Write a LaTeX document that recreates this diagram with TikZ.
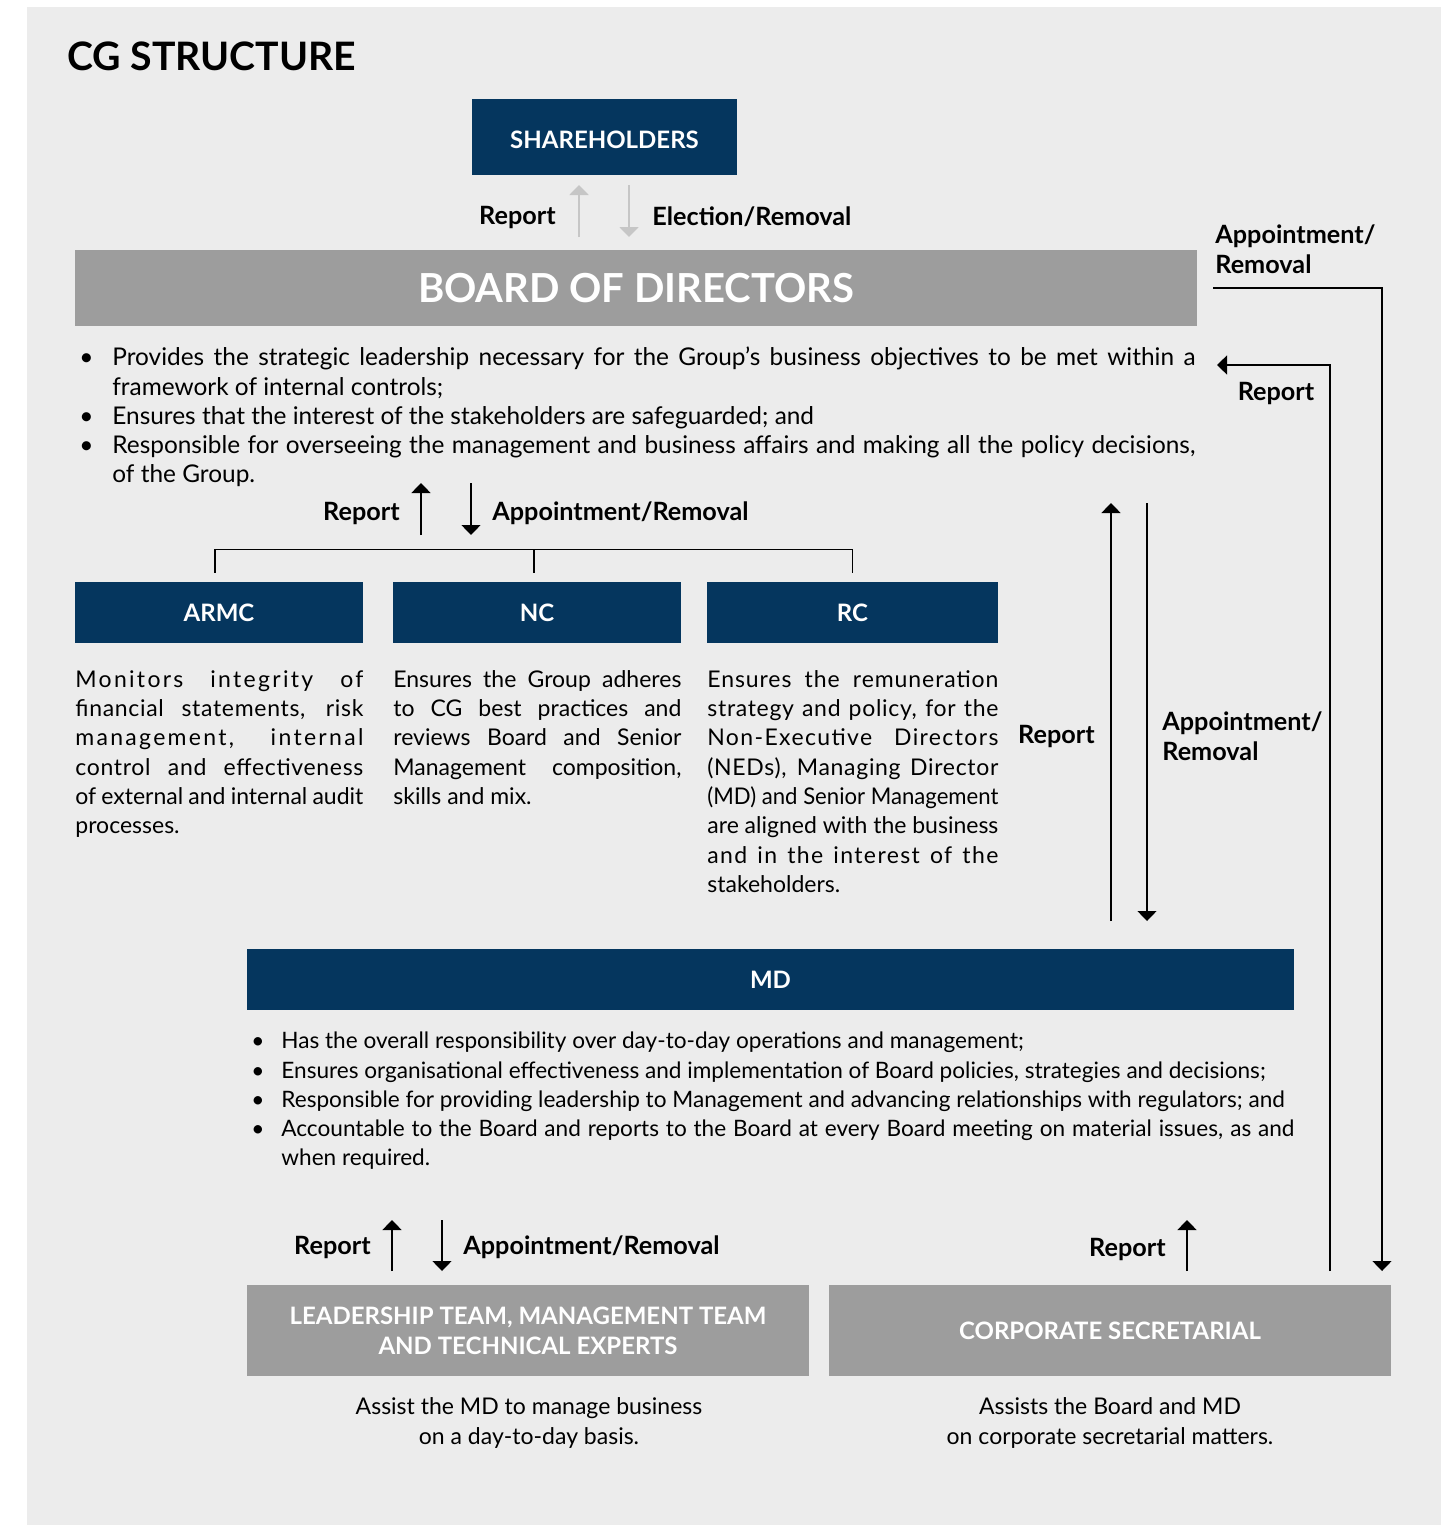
\documentclass[tikz,border=0pt]{standalone}
\usepackage{fontspec}
\setmainfont{Lato}
\usepackage{graphicx}
\usepackage{tikz}
\usetikzlibrary{arrows.meta,positioning,calc}
\definecolor{cgnavy}{RGB}{5,54,94}
\definecolor{cggrey}{RGB}{157,157,157}
\definecolor{cgback}{RGB}{236,236,236}
\definecolor{cglite}{RGB}{198,198,198}
\newcommand{\cgitem}[1]{\par\noindent\hangindent=#1\hangafter=1\hbox to #1{\hspace{2pt}\textbullet\hfil}}
\newcommand{\cgls}[2]{{\addfontfeature{LetterSpace=#1}#2}}

\begin{document}
\begin{tikzpicture}[x=0.5pt,y=-0.5pt, every node/.style={inner sep=0pt},
    navybox/.style={fill=cgnavy,text=white,minimum height=30.5pt,font=\bfseries\fontsize{12}{14}\selectfont},
    greybox/.style={fill=cggrey,text=white,align=center,font=\bfseries\fontsize{12}{15}\selectfont},
    lbl/.style={align=left,font=\bfseries\fontsize{12.6}{15}\selectfont},
    body/.style={align=justify,anchor=north west,font=\fontsize{11.5}{14.65}\selectfont},
    flow/.style={line width=0.7pt,-{Triangle[width=9.5pt,length=5pt]}},
    liteflow/.style={flow,line width=1pt,cglite}]
  \useasboundingbox (0,0) rectangle (1454,1525);
  \fill[cgback] (27,7) rectangle (1441,1525);
  \node[anchor=west,font=\bfseries\fontsize{19.6}{24}\selectfont] (title) at (67,56) {CG STRUCTURE};

  \node[navybox,minimum width=132.5pt,minimum height=38pt,text height=11.6pt] (share) at (604.5,137) {SHAREHOLDERS};
  \node[greybox,minimum width=561pt,minimum height=38pt,font=\bfseries\fontsize{20}{24}\selectfont] (bod) at (636,288) {BOARD OF DIRECTORS};
  \node[body,text width=560pt,font=\fontsize{12.2}{14.65}\selectfont] (bodtext) at (75,336) {%
    \cgitem{18.5pt}Provides the strategic leadership necessary for the Group’s business objectives to be met within a \linebreak framework of internal controls;
    \cgitem{18.5pt}Ensures that the interest of the stakeholders are safeguarded; and
    \cgitem{18.5pt}Responsible for overseeing the management and business affairs and making all the policy decisions, \linebreak of the Group.\par};

  \foreach \n/\x/\w/\t in {armc/219/144/ARMC, nc/537/144/NC, rc/852.5/145.5/RC}
    \node[navybox,minimum width=\w pt] (\n) at (\x,612.5) {\t};
  \node[body,text width=144pt] (armctext) at (75,670) {\cgls{10}{Monitors integrity of} \linebreak \cgls{3}{financial statements, risk} \linebreak \cgls{10}{management, internal} \linebreak \cgls{3}{control and effectiveness} \linebreak of external and internal audit \linebreak processes.\par};
  \node[body,text width=144pt] (nctext) at (393,670) {Ensures the Group adheres \linebreak to CG best practices and \linebreak reviews Board and Senior \linebreak Management composition, \linebreak skills and mix.\par};
  \node[body,text width=145.5pt] (rctext) at (707,670) {\cgls{4}{Ensures the remuneration} \linebreak \cgls{3}{strategy and policy, for the} \linebreak \cgls{6}{Non-Executive Directors} \linebreak \cgls{3}{(NEDs), Managing Director} \linebreak \resizebox{\linewidth}{\height}{(MD) and Senior Management} \linebreak are aligned with the business \linebreak \cgls{6}{and in the interest of the} \linebreak stakeholders.\par};
  \draw[line width=0.7pt] ($(armc.north)+(-4,-9)$) -- ++(0,-23) -| ($(rc.north)+(0,-9)$);
  \draw[line width=0.7pt] ($(nc.north)+(-3,-9)$) -- ++(0,-23);

  \node[navybox,minimum width=523.5pt] (md) at (770.5,979.5) {MD};
  \node[body,text width=523.5pt,font=\fontsize{11.3}{14.65}\selectfont] (mdtext) at (247,1019) {%
    \cgitem{17pt}Has the overall responsibility over day-to-day operations and management;
    \cgitem{17pt}Ensures organisational effectiveness and implementation of Board policies, strategies and decisions;
    \cgitem{17pt}Responsible for providing leadership to Management and advancing relationships with regulators; and
    \cgitem{17pt}Accountable to the Board and reports to the Board at every Board meeting on material issues, as and \linebreak when required.\par};

  \node[greybox,minimum width=281pt,minimum height=45.5pt] (leaders) at (528,1330.5) {LEADERSHIP TEAM, MANAGEMENT TEAM\\AND TECHNICAL EXPERTS};
  \node[greybox,minimum width=281pt,minimum height=45.5pt] (cosec) at (1110,1330.5) {CORPORATE SECRETARIAL};
  \node[align=center,font=\fontsize{11.5}{14.65}\selectfont] (leaderstext) at (529,1423) {Assist the MD to manage business\\on a day-to-day basis.};
  \node[align=center,font=\fontsize{11.5}{14.65}\selectfont] (cosectext) at (1110,1423) {Assists the Board and MD\\on corporate secretarial matters.};

  \foreach \n/\x/\y in {sa/579/237, sb/579/185, sc/629/185, sd/629/237,
      ba/421/535, bb/421/483, bc/471/483, bd/471/535,
      ra/1111/921, rb/1111/503, rc/1147/503, rd/1147/921,
      ma/392/1271, mb/392/1220, mc/442/1220, md/442/1271,
      ca/1187/1271, cb/1187/1220,
      pa/1330/1271, pb/1330/365, pc/1217/365,
      qa/1213/288, qb/1382/288, qc/1382/1271}
    \coordinate (\n\n) at (\x,\y);
  \draw[liteflow] (sasa) -- (sbsb);
  \draw[liteflow] (scsc) -- (sdsd);
  \foreach \a/\b in {baba/bbbb, bcbc/bdbd, rara/rbrb, rcrc/rdrd, mama/mbmb, mcmc/mdmd, caca/cbcb}
    \draw[flow] (\a) -- (\b);
  \draw[flow] (papa) -- (pbpb) -- (pcpc);
  \draw[flow] (qaqa) -- (qbqb) -- (qcqc);

  \node[lbl,anchor=east] (shrep) at (556,217) {Report};
  \node[lbl,anchor=west] (shelect) at (652,217) {Election/Removal};
  \node[lbl,anchor=east] (brep) at (400,513) {Report};
  \node[lbl,anchor=west] (bappt) at (492,513) {Appointment/Removal};
  \node[lbl,anchor=west] (qappt) at (1215,249) {Appointment/\\Removal};
  \node[lbl] (prep) at (1276,393) {Report};
  \node[lbl,anchor=east] (rrep) at (1095,736) {Report};
  \node[lbl,anchor=west] (rappt) at (1162,736) {Appointment/\\Removal};
  \node[lbl,anchor=east] (mrep) at (371,1247) {Report};
  \node[lbl,anchor=west] (mappt) at (463,1247) {Appointment/Removal};
  \node[lbl,anchor=east] (crep) at (1166,1249) {Report};
\end{tikzpicture}
\end{document}
